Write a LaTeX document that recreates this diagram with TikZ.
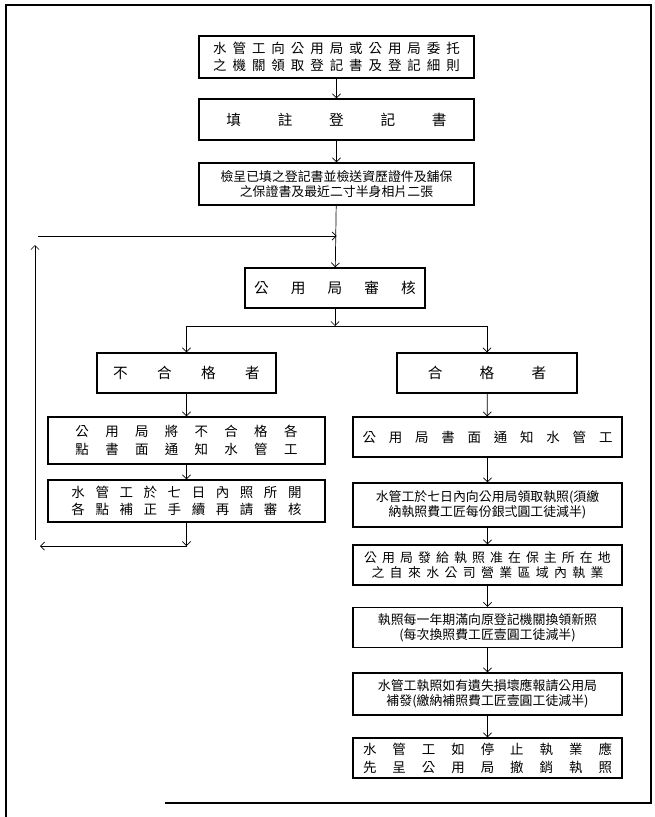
\documentclass[tikz,border=0pt]{standalone}
\usepackage{fontspec}
\newfontfamily\cjk{Noto Sans CJK TC}
\usepackage{tikz}
\usetikzlibrary{arrows.meta,positioning}
\newcommand{\sprd}[2]{\makebox[#1][s]{#2}}

\begin{document}
\begin{tikzpicture}[x=0.03cm, y=-0.03cm,
  stage/.style={draw, line width=1.1pt, inner sep=0pt, align=center, font=\cjk\fontsize{11}{13}\selectfont},
  loose/.style={font=\cjk\fontsize{11.5}{15}\selectfont},
  big/.style={font=\cjk\fontsize{12.5}{15}\selectfont},
  flow/.style={-{Straight Barb[length=3.5pt,width=7pt]}, line width=0.6pt},
]
\useasboundingbox (0,0) rectangle (655,817);
% Frame
\draw[line width=1.6pt] (6,817) -- (6,5) -- (651,5) -- (651,803) -- (165,803);
% Registration steps
\node[stage, loose, minimum width=8.25cm, minimum height=1.26cm] (reg) at (336.5,57)
  {\sprd{7.4cm}{水 管 工 向 公 用 局 或 公 用 局 委 托}\\ \sprd{7.4cm}{之 機 關 領 取 登 記 書 及 登 記 細 則}};
\node[stage, big, minimum width=8.25cm, minimum height=1.23cm] (fill) at (336.5,119.5)
  {\sprd{6.6cm}{填 註 登 記 書}};
\node[stage, minimum width=8.25cm, minimum height=1.26cm] (send) at (336.5,184)
  {檢呈已填之登記書並檢送資歷證件及舖保\\之保證書及最近二寸半身相片二張};
\node[stage, big, minimum width=5.4cm, minimum height=1.2cm] (check) at (335,288)
  {\sprd{4.85cm}{公 用 局 審 核}};
% Failed branch
\node[stage, big, minimum width=5.37cm, minimum height=1.2cm] (fail) at (186.5,373)
  {\sprd{4.4cm}{不 合 格 者}};
\node[stage, loose, minimum width=8.31cm, minimum height=1.41cm] (failnote) at (186.5,440.5)
  {\sprd{6.66cm}{公 用 局 將 不 合 格 各}\\ \sprd{6.66cm}{點 書 面 通 知 水 管 工}};
\node[stage, loose, minimum width=8.31cm, minimum height=1.26cm] (redo) at (186.5,501)
  {\sprd{6.9cm}{水 管 工 於 七 日 內 照 所 開}\\ \sprd{6.9cm}{各 點 補 正 手 續 再 請 審 核}};
% Passed branch
\node[stage, big, minimum width=5.4cm, minimum height=1.2cm] (pass) at (487,373)
  {\sprd{3.55cm}{合 格 者}};
\node[stage, loose, minimum width=8.07cm, minimum height=1.2cm] (passnote) at (487.5,437)
  {\sprd{7.5cm}{公 用 局 書 面 通 知 水 管 工}};
\node[stage, minimum width=8.07cm, minimum height=1.32cm] (license) at (487.5,505)
  {水管工於七日內向公用局領取執照(須繳\\納執照費工匠每份銀弍圓工徒減半)};
\node[stage, minimum width=8.07cm, minimum height=1.2cm] (area) at (487.5,565)
  {\sprd{7.4cm}{公 用 局 發 給 執 照 准 在 保 主 所 在 地}\\ \sprd{6.96cm}{之 自 來 水 公 司 營 業 區 域 內 執 業}};
\node[stage, minimum width=8.07cm, minimum height=1.2cm] (renew) at (487.5,627.5)
  {執照每一年期滿向原登記機關換領新照\\(每次換照費工匠壹圓工徒減半)};
\node[stage, minimum width=8.07cm, minimum height=1.26cm] (lost) at (487.5,694)
  {水管工執照如有遺失損壞應報請公用局\\補發(繳納補照費工匠壹圓工徒減半)};
\node[stage, loose, minimum width=8.07cm, minimum height=1.2cm] (stop) at (487.5,758)
  {\sprd{7.47cm}{水 管 工 如 停 止 執 業 應}\\ \sprd{7.47cm}{先 呈 公 用 局 撤 銷 執 照}};
% Branch and return points
\coordinate (fork) at (335,326);
\coordinate (forkL) at (186.5,326);
\coordinate (forkR) at (487,326);
\coordinate (back) at (186.5,546);
\coordinate (backL) at (40,546);
\coordinate (upB) at (35,540);
\coordinate (upT) at (35,245);
\coordinate (loopL) at (38,236);
\coordinate (loopR) at (336.5,236);
% Arrows
\draw[flow] (reg) -- (fill);
\draw[flow] (fill) -- (send);
\draw[flow] (send) -- (check);
\draw[flow] (check) -- (fork);
\draw[line width=0.6pt] (forkL) -- (forkR);
\draw[flow] (forkL) -- (fail);
\draw[flow] (forkR) -- (pass);
\draw[flow] (fail) -- (failnote);
\draw[flow] (failnote) -- (redo);
\draw[flow] (redo) -- (back);
\draw[flow] (back) -- (backL);
\draw[flow] (upB) -- (upT);
\draw[flow] (loopL) -- (loopR);
\draw[flow] (pass) -- (passnote);
\draw[flow] (passnote) -- (license);
\draw[flow] (license) -- (area);
\draw[flow] (area) -- (renew);
\draw[flow] (renew) -- (lost);
\draw[flow] (lost) -- (stop);
\end{tikzpicture}
\end{document}
